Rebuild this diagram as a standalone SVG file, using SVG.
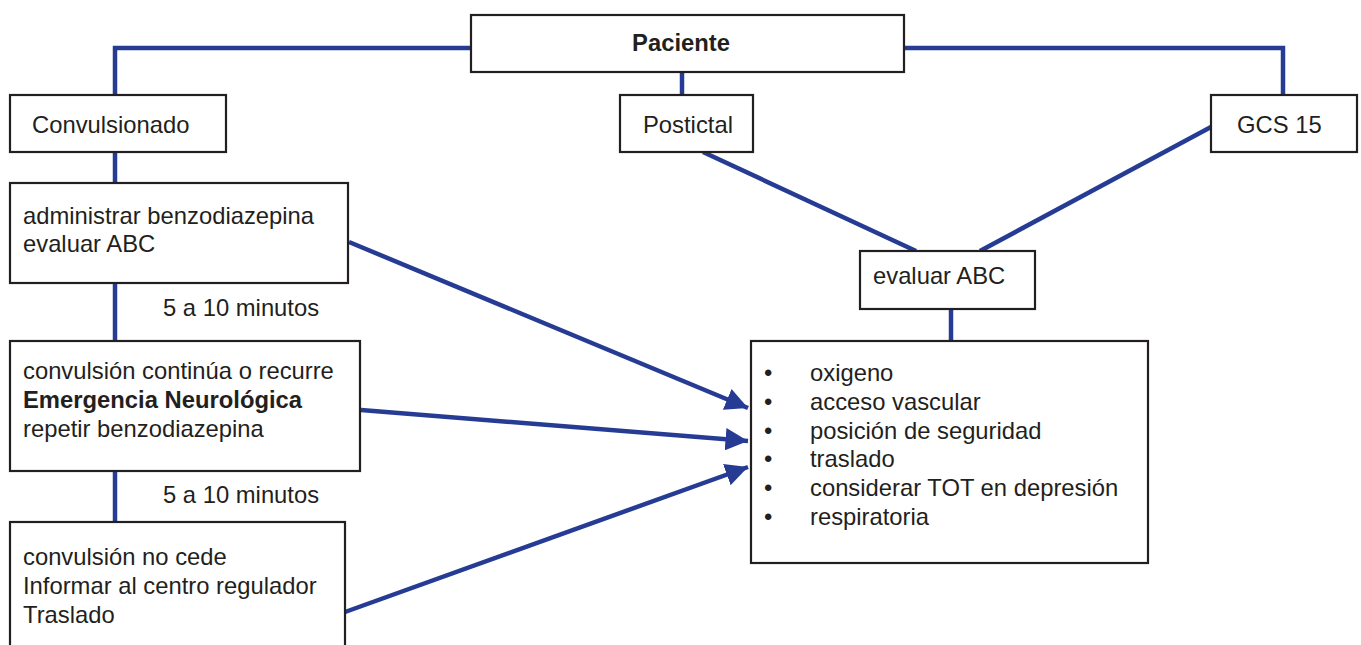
<svg xmlns="http://www.w3.org/2000/svg" width="1361" height="645" viewBox="0 0 1361 645">
<style>
.box{fill:#fff;stroke:#231f20;stroke-width:2.2}
.t{font-family:"Liberation Sans",Arial,sans-serif;font-size:23.8px;fill:#231f20}
.b{font-weight:bold}
.ln{fill:none;stroke:#263c94;stroke-width:4.5}
</style>
<defs>
<marker id="ah" viewBox="0 0 10 10" refX="10" refY="5" markerWidth="5" markerHeight="5" orient="auto" markerUnits="strokeWidth">
<path d="M0,0 L10,5 L0,10 z" fill="#263c94"/>
</marker>
</defs>
<rect width="1361" height="645" fill="#fff"/>
<g id="connectors">
<polyline class="ln" points="471,48 115,48 115,95"/>
<polyline class="ln" points="904,48 1283,48 1283,95"/>
<line class="ln" x1="682" y1="72" x2="682" y2="95"/>
<line class="ln" x1="115" y1="152" x2="115" y2="183"/>
<line class="ln" x1="115" y1="283" x2="115" y2="341"/>
<line class="ln" x1="115" y1="471" x2="115" y2="522"/>
<line class="ln" x1="703" y1="152" x2="916" y2="251"/>
<line class="ln" x1="1211" y1="127" x2="980" y2="251"/>
<line class="ln" x1="951" y1="310" x2="951" y2="341"/>
<line class="ln" x1="349" y1="242" x2="748" y2="408" marker-end="url(#ah)"/>
<line class="ln" x1="361" y1="410" x2="748" y2="441" marker-end="url(#ah)"/>
<line class="ln" x1="345" y1="612" x2="748" y2="467" marker-end="url(#ah)"/>
</g>
<g id="paciente">
<rect class="box" x="471" y="15" width="433" height="57"/>
<text class="t b" x="681" y="51" text-anchor="middle">Paciente</text>
</g>
<g id="convulsionado">
<rect class="box" x="10" y="95" width="216" height="57"/>
<text class="t" x="32" y="133">Convulsionado</text>
</g>
<g id="postictal">
<rect class="box" x="620" y="95" width="133" height="57"/>
<text class="t" x="643" y="133">Postictal</text>
</g>
<g id="gcs15">
<rect class="box" x="1211" y="95" width="146" height="57"/>
<text class="t" x="1237" y="133">GCS 15</text>
</g>
<g id="administrar">
<rect class="box" x="10" y="183" width="338" height="100"/>
<text class="t" x="23" y="224">administrar benzodiazepina</text>
<text class="t" x="23" y="252">evaluar ABC</text>
</g>
<text class="t" x="163" y="316">5 a 10 minutos</text>
<g id="continua">
<rect class="box" x="10" y="341" width="350" height="130"/>
<text class="t" x="23" y="379">convulsión continúa o recurre</text>
<text class="t b" x="23" y="408">Emergencia Neurológica</text>
<text class="t" x="23" y="437">repetir benzodiazepina</text>
</g>
<text class="t" x="163" y="503">5 a 10 minutos</text>
<g id="nocede">
<rect class="box" x="10" y="522" width="335" height="140"/>
<text class="t" x="23" y="565">convulsión no cede</text>
<text class="t" x="23" y="594">Informar al centro regulador</text>
<text class="t" x="23" y="623">Traslado</text>
</g>
<g id="evaluarabc">
<rect class="box" x="860" y="251" width="175" height="58"/>
<text class="t" x="873" y="284">evaluar ABC</text>
</g>
<g id="medidas">
<rect class="box" x="751" y="341" width="397" height="222"/>
<g class="t">
<text x="764" y="381">•</text><text x="810" y="381">oxigeno</text>
<text x="764" y="410">•</text><text x="810" y="410">acceso vascular</text>
<text x="764" y="439">•</text><text x="810" y="439">posición de seguridad</text>
<text x="764" y="467">•</text><text x="810" y="467">traslado</text>
<text x="764" y="496">•</text><text x="810" y="496">considerar TOT en depresión</text>
<text x="764" y="525">•</text><text x="810" y="525">respiratoria</text>
</g>
</g>
</svg>
